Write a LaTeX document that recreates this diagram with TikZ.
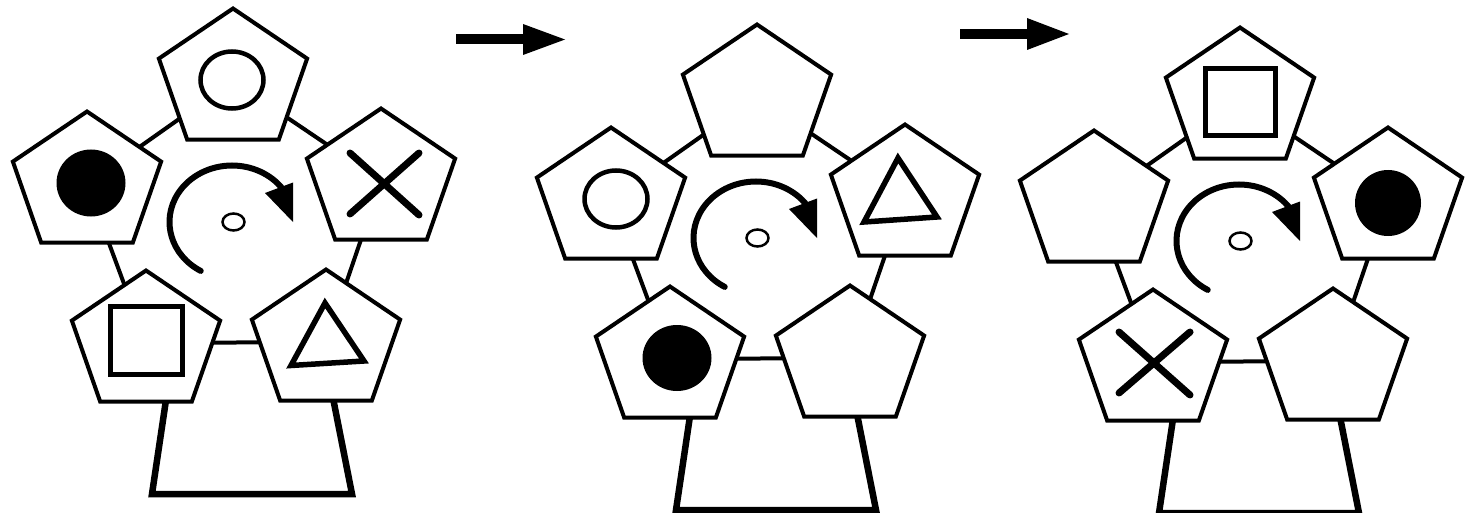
\documentclass[tikz,border=0pt]{standalone}
\usetikzlibrary{shapes.geometric,backgrounds}
\tikzset{
  pent/.style={draw, line width=4pt, fill=white, regular polygon, regular polygon sides=5,
    minimum size=145pt, inner sep=0pt, outer sep=0pt, xscale=1.075, line join=miter},
  ringline/.style={line width=4pt},
  standline/.style={line width=6.5pt, line join=miter},
  sym/.style={line width=5.5pt, line join=miter},
  osym/.style={line width=4.5pt},
  xsym/.style={line width=7pt, line cap=round},
  rotarc/.style={line width=6pt, line cap=round},
  hub/.style={line width=2.5pt}
}
\newcommand\wheel[3]{%
  \begin{scope}[shift={(#2,#3)}]
    \node[pent] (T#1) at (1,-141) {};
    \node[pent] (L#1) at (-145,-38) {};
    \node[pent] (R#1) at (149,-41) {};
    \node[pent] (BL#1) at (-86,121) {};
    \node[pent] (BR#1) at (94,120) {};
    \begin{pgfonlayer}{background}
      \draw[ringline] (T#1.center) -- (R#1.center) -- (BR#1.center) -- (BL#1.center) -- (L#1.center) -- cycle;
      \draw[standline] (-66,178) -- (-80,272) -- (120,272) -- (101,176);
    \end{pgfonlayer}
    \draw[rotarc] (120:62.5 and 56.5) arc[start angle=120, end angle=324, x radius=62.5, y radius=56.5];
    \fill (33,-29) -- (61,-39.5) -- (61,0) -- cycle;
    \draw[hub] (1.5,0) ellipse[x radius=11, y radius=8.5];
  \end{scope}}
\begin{document}
\begin{tikzpicture}[x=1pt,y=-1pt]
  \useasboundingbox (0,0) rectangle (1466,513);
  % panels
  \wheel{1}{232}{222}
  \wheel{2}{756}{238}
  \wheel{3}{1239}{241}
  % arrows between panels
  \fill (456,34) rectangle (524,44);
  \fill (523,24) -- (565,39.5) -- (523,55) -- cycle;
  \fill (960,29) rectangle (1028,39);
  \fill (1027,18) -- (1069,34) -- (1027,50) -- cycle;
  % panel 1 symbols
  \draw[osym] ([shift={(-1,-1)}]T1.center) ellipse[x radius=31.5, y radius=28.5];
  \fill ([shift={(4,-1)}]L1.center) ellipse[x radius=34.5, y radius=33.5];
  \begin{scope}[shift={(R1.center)}]
    \draw[xsym] (-31,-28) -- (38,34);
    \draw[xsym] (38,-28) -- (-31,33);
  \end{scope}
  \begin{scope}[shift={(BL1.center)}]
    \draw[sym] (-35.5,-36.5) rectangle (36.5,31.5);
  \end{scope}
  \begin{scope}[shift={(BR1.center)}]
    \draw[sym] (-1,-39) -- (-35,23.5) -- (38,19) -- cycle;
  \end{scope}
  % panel 2 symbols
  \draw[osym] ([shift={(5,-1)}]L2.center) ellipse[x radius=31.5, y radius=28.5];
  \begin{scope}[shift={(R2.center)}]
    \draw[sym] (-7,-39) -- (-41,25) -- (32,20) -- cycle;
  \end{scope}
  \fill ([shift={(7,-1)}]BL2.center) ellipse[x radius=34.5, y radius=33];
  % panel 3 symbols
  \begin{scope}[shift={(T3.center)}]
    \draw[sym] (-34.5,-31.5) rectangle (35.5,35.5);
  \end{scope}
  \fill ([shift={(0,3)}]R3.center) ellipse[x radius=33, y radius=33];
  \begin{scope}[shift={(BL3.center)}]
    \draw[xsym] (-34,-30) -- (37,33);
    \draw[xsym] (37,-30) -- (-34,31);
  \end{scope}
\end{tikzpicture}
\end{document}
